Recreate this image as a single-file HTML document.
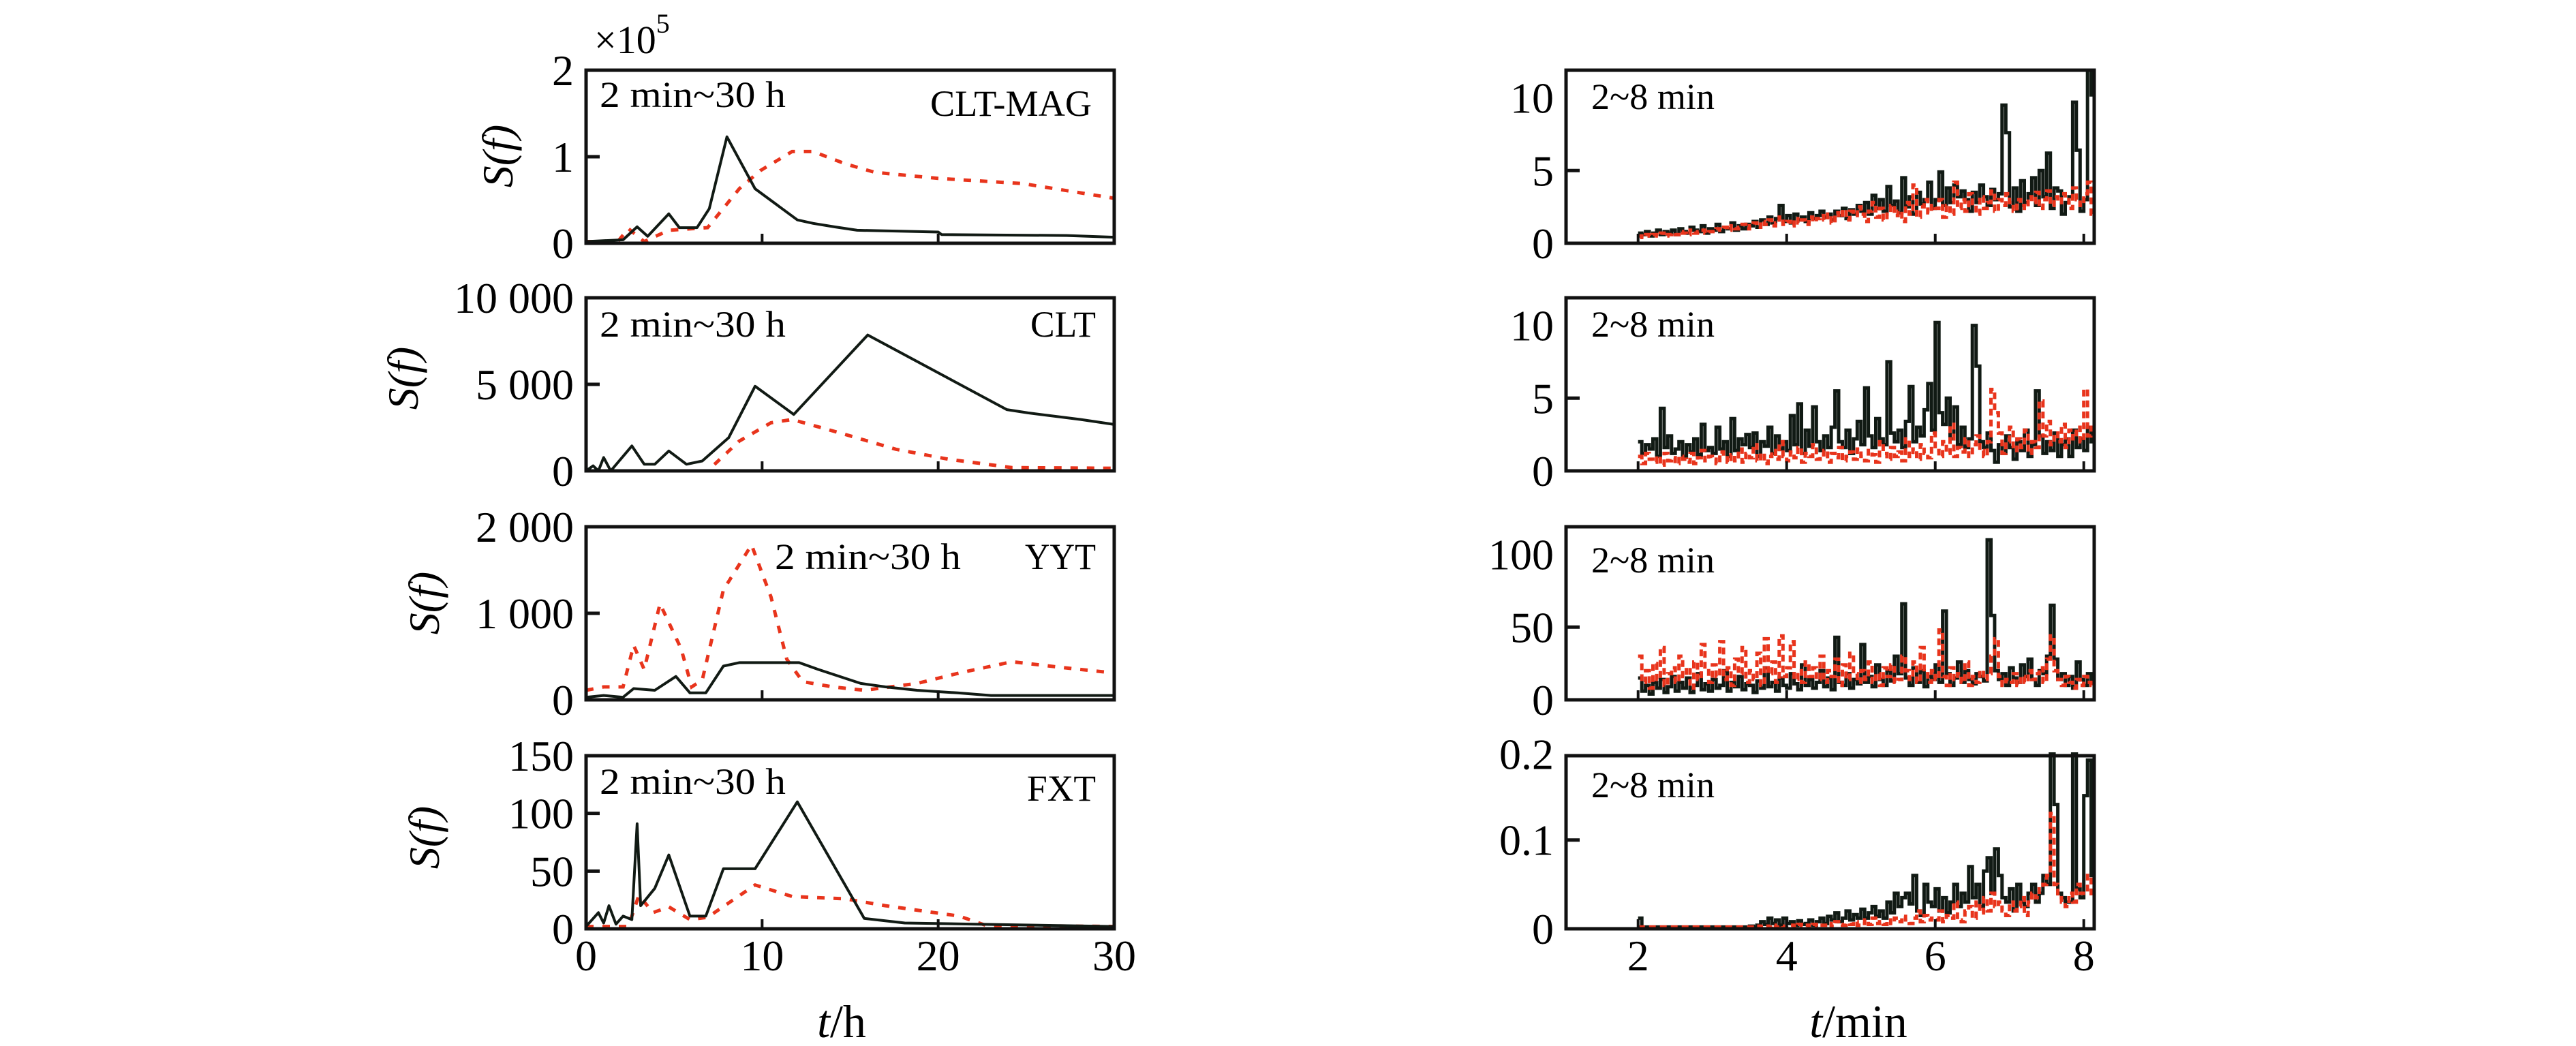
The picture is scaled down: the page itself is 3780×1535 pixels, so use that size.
<!DOCTYPE html>
<html><head><meta charset="utf-8"><style>
html,body{margin:0;padding:0;background:#fff;}
svg{display:block;font-family:"Liberation Serif",serif;}
</style></head><body>
<svg id="chart" width="3780" height="1535" viewBox="0 0 3780 1535" xmlns="http://www.w3.org/2000/svg"></svg>
<script>
// ---------- Left panels data (t in h, value) ----------
const L1_bt=[0,2.1,2.9,3.5,4.7,5.3,6.3,7.0,8.0,9.6,12.0,12.9,14.1,15.4,20,20.2,27.3,30];
const L1_bv=[0.02,0.04,0.19,0.08,0.34,0.18,0.18,0.40,1.23,0.63,0.27,0.23,0.19,0.15,0.13,0.10,0.09,0.07];
const L1_rt=[0,1.8,2.4,3.3,4.7,6.9,8.7,9.9,11.7,12.9,14.7,16.4,20,24.8,30];
const L1_rv=[0.02,0.02,0.17,0.02,0.15,0.18,0.63,0.84,1.06,1.06,0.92,0.82,0.75,0.69,0.52];
const L2_bt=[0,0.4,0.7,1.0,1.4,2.6,3.3,3.9,4.7,5.7,6.6,8.1,9.6,11.8,16.0,23.9,25.1,28.1,30];
const L2_bv=[0,290,0,770,0,1440,380,380,1150,380,570,1920,4890,3260,7850,3540,3350,2970,2680];
const L2_rt=[0,6.9,8.7,10.5,11.7,14.7,17.6,20.6,24.2,30];
const L2_rv=[0,0,1720,2780,2970,2110,1250,670,190,150];
const L3_bt=[0,1,2.1,2.7,3.9,5.1,5.9,6.8,7.8,8.7,12.1,13.2,15.6,17.0,18.8,21.1,23.0,30];
const L3_bv=[30,50,30,130,110,270,80,80,390,430,430,350,190,150,110,80,50,50];
const L3_rt=[0,1,2.1,2.7,3.3,4.2,5.4,6.0,6.6,7.8,9.4,10.5,11.4,12.3,14.0,15.8,18.8,21.2,24.2,27.2,30];
const L3_rv=[110,150,150,630,350,1110,590,150,230,1270,1790,1190,470,210,150,110,190,310,440,370,310];
const L4_bt=[0,0.7,1.0,1.3,1.7,2.1,2.6,2.9,3.1,3.9,4.7,5.9,6.8,7.8,9.6,12.0,15.8,18.1,22.1,30];
const L4_bv=[2,14,5,20,4,11,8,91,20,35,64,11,11,52,52,110,9,5,4,2];
const L4_rt=[0,2.4,3.0,3.8,4.7,5.9,6.9,9.6,11.7,14.7,17.0,21.2,22.7,30];
const L4_rv=[2,2,29,14,19,8,10,38,28,26,20,11,3,2];
// ---------- Right panels data (t from 2.00 min, step 0.05) ----------
const R_t0=2.0, R_dt=0.05;
const R1_b=[0.7,0.6,0.8,0.5,0.7,0.9,0.6,0.8,0.7,0.9, 0.6,1.0,0.8,0.7,1.1,0.9,0.8,1.2,0.7,1.0, 0.9,1.3,0.8,1.1,1.0,1.4,0.9,1.2,1.0,1.3, 1.2,1.5,1.1,1.6,1.3,1.8,1.4,1.7,2.6,1.5, 1.9,1.4,2.0,1.6,1.8,1.5,2.1,1.7,1.9,2.2, 1.8,2.0,1.6,2.2,1.9,2.4,1.7,2.3,2.0,2.6, 2.2,2.8,2.0,3.3,2.4,3.0,2.2,3.9,2.6,2.9, 2.1,4.5,2.5,3.2,2.0,3.5,2.7,3.0,4.2,2.4, 3.0,4.9,2.6,3.8,2.8,4.0,3.2,3.6,3.0,2.2, 3.5,2.8,4.0,3.2,2.6,3.7,3.0,3.4,9.5,7.6, 2.5,3.8,2.2,4.3,2.8,3.4,4.5,2.6,5.0,3.2, 6.2,2.4,3.8,3.6,2.0,2.8,3.2,9.7,6.4,2.2, 3.0,11.9,10.2];
const R1_r=[0.5,0.4,0.6,0.5,0.6,0.5,0.7,0.5,0.6,0.7, 0.6,0.8,0.7,0.6,0.9,0.7,0.8,0.9,0.7,0.8, 0.8,1.0,0.9,1.1,0.9,1.2,1.0,1.1,1.3,1.0, 1.2,1.4,1.1,1.5,1.3,1.6,1.2,1.4,1.8,1.3, 1.5,1.2,1.7,1.4,1.6,1.3,1.8,1.5,1.7,1.9, 1.6,2.0,1.4,2.1,1.8,2.3,1.6,2.2,1.9,2.5, 2.0,1.5,2.2,2.8,1.8,2.4,1.6,2.0,2.6,1.9, 2.2,1.5,2.8,2.0,4.0,1.8,2.5,3.0,2.1,2.6, 2.4,3.0,1.8,2.6,2.0,4.2,2.4,3.0,2.2,3.4, 2.6,2.0,3.2,2.4,2.8,3.6,2.2,3.0,2.6,3.4, 2.8,2.2,3.0,2.6,2.4,3.2,2.8,3.5,2.4,3.0, 3.6,2.6,3.2,2.8,3.4,3.0,2.4,3.8,3.0,2.6, 3.4,4.2,2.0];
const R2_b=[2.0,1.2,1.8,1.5,2.2,1.0,4.3,1.6,2.4,1.2, 1.5,2.0,1.0,1.8,1.3,2.2,1.1,3.2,1.4,1.6, 1.2,3.0,1.5,2.0,1.0,3.6,1.4,2.2,1.8,2.5, 1.6,2.6,1.0,2.0,1.7,3.0,1.2,2.4,1.5,2.0, 1.4,3.8,1.8,4.6,1.2,2.8,1.7,4.4,2.0,1.4, 2.4,1.6,3.0,5.5,2.0,1.6,2.8,1.2,2.2,3.4, 1.8,5.7,2.4,1.6,3.6,2.2,1.8,7.5,2.6,2.0, 2.8,1.6,3.4,5.8,2.0,3.0,2.4,4.2,6.0,2.8, 10.2,4.0,3.2,5.0,2.2,4.4,1.8,3.0,1.6,2.2, 10.0,7.2,2.0,1.6,2.6,1.4,0.6,1.8,1.2,2.4, 1.6,0.8,2.0,1.4,2.8,1.0,1.8,5.5,2.4,1.2, 2.0,1.4,2.6,1.0,1.8,2.2,1.0,2.8,1.6,2.2, 1.4,3.0,2.0];
const R2_r=[1.0,0.5,1.2,0.8,0.6,1.0,0.4,1.2,0.7,0.9, 0.5,1.0,0.8,0.6,1.2,0.5,0.9,1.4,0.7,1.0, 0.8,0.5,1.3,0.9,0.6,1.1,0.7,1.5,0.6,1.2, 0.9,1.8,0.7,1.2,0.5,1.0,1.4,0.8,2.0,1.0, 0.7,1.3,0.9,1.6,0.6,1.2,1.0,1.8,0.8,1.1, 1.4,0.6,1.2,0.9,1.6,0.7,1.0,1.3,0.8,1.5, 1.0,0.7,1.4,1.1,0.6,2.0,1.2,0.8,1.6,1.0, 1.3,0.7,2.2,1.0,1.5,0.8,1.8,1.2,0.9,2.6, 1.4,1.0,2.0,1.2,3.2,1.0,1.6,1.3,2.2,1.0, 1.8,2.4,1.4,1.0,2.0,5.6,4.0,2.6,1.2,2.0, 3.0,1.4,2.2,1.6,2.8,1.2,2.0,1.6,4.8,2.4, 3.4,1.8,2.6,2.0,3.2,1.6,2.8,2.2,3.0,2.0, 5.6,2.4,3.0];
const R3_b=[15,6,10,4,12,8,14,5,9,16, 6,12,8,15,5,10,18,7,11,6, 14,8,10,20,6,12,9,16,7,11, 10,5,13,8,22,9,12,6,15,10, 8,18,11,7,24,10,14,8,12,20, 9,15,7,43,12,10,18,8,14,11, 38,12,16,9,24,14,10,20,13,30, 18,66,15,10,22,12,20,9,16,14, 24,12,61,18,10,15,26,12,20,14, 11,18,16,13,110,58,20,14,18,10, 22,15,12,24,16,28,14,10,20,18, 30,65,28,14,18,10,16,8,26,14, 10,18,12];
const R3_r=[30,12,20,8,25,14,36,10,18,22, 12,30,16,22,8,26,14,38,20,12, 24,16,40,14,22,10,28,18,36,12, 20,14,32,10,42,18,26,12,44,16, 22,40,14,20,12,26,16,22,14,30, 12,20,16,28,10,24,14,32,18,12, 20,14,26,12,18,10,22,16,24,12, 14,30,20,14,26,12,36,18,12,20, 14,48,16,10,22,14,18,12,26,10, 16,12,20,14,18,30,42,16,10,14, 12,18,10,16,12,20,14,18,22,12, 28,44,20,14,10,16,12,8,14,10, 16,12,10];
const R4_b=[0.012,0.002,0.002,0.002,0.002,0.002,0.002,0.002,0.002,0.002, 0.002,0.002,0.002,0.002,0.002,0.002,0.002,0.002,0.002,0.002, 0.002,0.002,0.002,0.002,0.002,0.002,0.002,0.002,0.002,0.002, 0.003,0.002,0.004,0.008,0.005,0.012,0.006,0.01,0.004,0.012, 0.006,0.008,0.004,0.009,0.005,0.006,0.01,0.004,0.008,0.012, 0.006,0.014,0.01,0.018,0.008,0.012,0.02,0.01,0.016,0.012, 0.022,0.012,0.018,0.025,0.014,0.02,0.012,0.03,0.018,0.04, 0.025,0.035,0.04,0.028,0.06,0.02,0.015,0.05,0.03,0.025, 0.045,0.02,0.035,0.018,0.03,0.05,0.025,0.04,0.03,0.07, 0.035,0.05,0.025,0.065,0.08,0.04,0.09,0.06,0.035,0.03, 0.045,0.02,0.05,0.03,0.025,0.04,0.05,0.03,0.04,0.06, 0.05,0.2,0.14,0.04,0.035,0.03,0.03,0.2,0.045,0.035, 0.15,0.19,0.06];
const R4_r=[0.002,0.002,0.002,0.002,0.002,0.002,0.002,0.002,0.002,0.002, 0.002,0.002,0.002,0.002,0.002,0.002,0.002,0.002,0.002,0.002, 0.002,0.002,0.002,0.002,0.002,0.002,0.002,0.002,0.002,0.002, 0.002,0.002,0.003,0.002,0.003,0.002,0.004,0.002,0.003,0.002, 0.003,0.004,0.002,0.005,0.003,0.004,0.002,0.005,0.003,0.004, 0.004,0.006,0.003,0.008,0.005,0.004,0.006,0.005,0.008,0.004, 0.006,0.01,0.005,0.012,0.006,0.008,0.005,0.01,0.006,0.012, 0.008,0.014,0.01,0.006,0.012,0.02,0.008,0.015,0.01,0.012, 0.01,0.02,0.008,0.015,0.012,0.03,0.01,0.008,0.02,0.025, 0.012,0.03,0.018,0.035,0.02,0.04,0.025,0.03,0.02,0.015, 0.03,0.02,0.025,0.035,0.015,0.03,0.04,0.035,0.045,0.05, 0.06,0.13,0.05,0.035,0.03,0.025,0.04,0.03,0.05,0.04, 0.04,0.06,0.035];
// tick labels
const L_xticks=[0,10,20,30];
const R_xticks=[2,4,6,8];
const yTicks=[[0,1,2],[0,5000,10000],[0,1000,2000],[0,50,100,150],[0,5,10],[0,5,10],[0,50,100],[0,0.1,0.2]];
const yLabels=[["0","1","2"],["0","5 000","10 000"],["0","1 000","2 000"],["0","50","100","150"],["0","5","10"],["0","5","10"],["0","50","100"],["0","0.1","0.2"]];
const yMax=[2,10000,2000,150,11.9,11.9,119,0.195];

const NS="http://www.w3.org/2000/svg";
const svg=document.getElementById('chart');
function mk(tag,attrs,parent){const e=document.createElementNS(NS,tag);for(const k in attrs)e.setAttribute(k,attrs[k]);(parent||svg).appendChild(e);return e;}
const tops=[103,437,773,1109], H=254;
const LX0=860,LX1=1635,RX0=2298,RX1=3073;
const BLACK="#111a14", RED="#e8341c";

function panel(idx,x0,x1,xmin,xmax,top){
  const g=mk('g',{});
  
  
  const bot=top+H;
  const sx=v=>x0+(v-xmin)/(xmax-xmin)*(x1-x0);
  const sy=v=>bot-Math.min(v,yMax[idx]*1.01)/yMax[idx]*H;
  return {g,sx,sy,bot,top,x0,x1};
}
function polyPath(sx,sy,ts,vs){return ts.map((t,i)=>(i?'L':'M')+sx(t).toFixed(1)+' '+sy(vs[i]).toFixed(1)).join(' ');}
function stepPath(sx,sy,vs){let d='';vs.forEach((v,i)=>{const t=R_t0+i*R_dt;const x=sx(t),x2=sx(t+R_dt);d+=(i?'L':'M')+x.toFixed(1)+' '+sy(v).toFixed(1)+' L'+x2.toFixed(1)+' '+sy(v).toFixed(1)+' ';});return d;}
function frame(p,idx,xtickVals,xtickScale){
  yTicks[idx].forEach((v,i)=>{
    const y=p.sy(v);
    if(i>0&&i<yTicks[idx].length-1){const tk=mk('line',{x1:p.x0,x2:p.x0+20,y1:y,y2:y,stroke:'#111',"stroke-width":5},p.g);
      }
    const t=mk('text',{x:p.x0-18,y:y+22,"text-anchor":"end","font-size":64},p.g);
    
    t.textContent=yLabels[idx][i];
  });
  xtickVals.forEach(v=>{const x=xtickScale(v);
    const tk=mk('line',{x1:x,x2:x,y1:p.bot,y2:p.bot-14,stroke:'#111',"stroke-width":4},p.g);
    });
  const r=mk('rect',{x:p.x0,y:p.top,width:p.x1-p.x0,height:H,fill:'none',stroke:'#111',"stroke-width":5},p.g);
  
}
const L=[[L1_bt,L1_bv,L1_rt,L1_rv],[L2_bt,L2_bv,L2_rt,L2_rv],[L3_bt,L3_bv,L3_rt,L3_rv],[L4_bt,L4_bv,L4_rt,L4_rv]];
const R=[[R1_b,R1_r],[R2_b,R2_r],[R3_b,R3_r],[R4_b,R4_r]];
for(let i=0;i<4;i++){
  const p=panel(i,LX0,LX1,0,30,tops[i]);
  const r=mk('path',{d:polyPath(p.sx,p.sy,L[i][2],L[i][3]),fill:'none',stroke:RED,"stroke-width":5,"stroke-dasharray":"11 13"},p.g);
  
  const b=mk('path',{d:polyPath(p.sx,p.sy,L[i][0],L[i][1]),fill:'none',stroke:BLACK,"stroke-width":4,"stroke-linejoin":"round"},p.g);
  
  frame(p,i,[10,20],p.sx);
}
for(let i=0;i<4;i++){
  const p=panel(4+i,RX0,RX1,1.03,8.14,tops[i]);
  const b=mk('path',{d:stepPath(p.sx,p.sy,R[i][0]),fill:'none',stroke:BLACK,"stroke-width":5},p.g);
  
  const r=mk('path',{d:stepPath(p.sx,p.sy,R[i][1]),fill:'none',stroke:RED,"stroke-width":5,"stroke-dasharray":"10 6"},p.g);
  
  frame(p,4+i,[2,4,6,8],p.sx);
}
L_xticks.forEach(v=>{const t=mk('text',{x:LX0+v/30*(LX1-LX0),y:1424,"text-anchor":"middle","font-size":64});
  t.textContent=v;});
R_xticks.forEach(v=>{const t=mk('text',{x:RX0+(v-1.03)/(8.14-1.03)*(RX1-RX0),y:1424,"text-anchor":"middle","font-size":64});
  t.textContent=v;});
</script>
<svg style="position:absolute;left:0;top:0" width="3780" height="1535" font-family="Liberation Serif, serif">
  <text x="872" y="78" font-size="58">×10<tspan dy="-30" font-size="40">5</tspan></text>
  <text x="880" y="157" font-size="54" textLength="273" lengthAdjust="spacingAndGlyphs">2 min~30 h</text>
  <text x="1602" y="170" font-size="54" textLength="237" lengthAdjust="spacingAndGlyphs" text-anchor="end">CLT-MAG</text>
  <text x="880" y="494" font-size="54" textLength="273" lengthAdjust="spacingAndGlyphs">2 min~30 h</text>
  <text x="1608" y="494" font-size="54" textLength="96" lengthAdjust="spacingAndGlyphs" text-anchor="end">CLT</text>
  <text x="1137" y="835" font-size="54" textLength="273" lengthAdjust="spacingAndGlyphs">2 min~30 h</text>
  <text x="1608" y="835" font-size="54" textLength="104" lengthAdjust="spacingAndGlyphs" text-anchor="end">YYT</text>
  <text x="880" y="1165" font-size="54" textLength="273" lengthAdjust="spacingAndGlyphs">2 min~30 h</text>
  <text x="1608" y="1175" font-size="54" textLength="101" lengthAdjust="spacingAndGlyphs" text-anchor="end">FXT</text>
  <text x="2335" y="160" font-size="54" textLength="181" lengthAdjust="spacingAndGlyphs">2~8 min</text>
  <text x="2335" y="494" font-size="54" textLength="181" lengthAdjust="spacingAndGlyphs">2~8 min</text>
  <text x="2335" y="840" font-size="54" textLength="181" lengthAdjust="spacingAndGlyphs">2~8 min</text>
  <text x="2335" y="1170" font-size="54" textLength="181" lengthAdjust="spacingAndGlyphs">2~8 min</text>
  <text transform="translate(752,229) rotate(-90)" font-size="64" text-anchor="middle" font-style="italic">S(f)</text>
  <text transform="translate(613,555) rotate(-90)" font-size="64" text-anchor="middle" font-style="italic">S(f)</text>
  <text transform="translate(644,885) rotate(-90)" font-size="64" text-anchor="middle" font-style="italic">S(f)</text>
  <text transform="translate(644,1229) rotate(-90)" font-size="64" text-anchor="middle" font-style="italic">S(f)</text>
  <text x="1235" y="1522" font-size="68" text-anchor="middle"><tspan font-style="italic">t</tspan>/h</text>
  <text x="2727" y="1522" font-size="68" text-anchor="middle"><tspan font-style="italic">t</tspan>/min</text>
</svg>
</body></html>
